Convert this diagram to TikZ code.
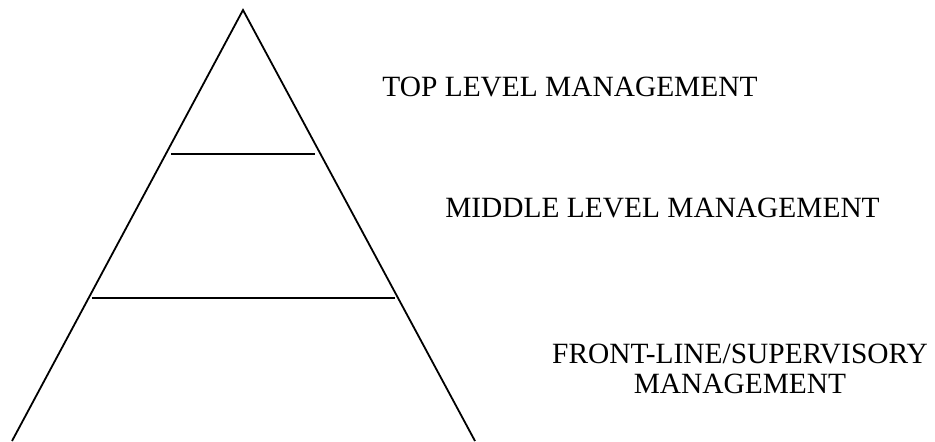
\documentclass[tikz,border=0pt]{standalone}
\usepackage{fontspec}
\setmainfont{Liberation Serif}
\tikzset{>=latex}
\tikzset{level/.style={inner sep=0pt, font=\fontsize{14.7}{15}\selectfont, align=center}}

\begin{document}
\begin{tikzpicture}[x=0.5pt, y=-0.5pt, line width=0.9pt]
      \useasboundingbox (0,0) rectangle (935,441);
      \coordinate (apex) at (243,10);
      \coordinate (bl) at (12,441);
      \coordinate (br) at (475,441);
      \draw (bl) -- (apex) -- (br);
      \draw (171,154) -- (315,154);
      \draw (92,298) -- (395,298);
      \node[level, anchor=base] (top) at (570,96) {TOP LEVEL MANAGEMENT};
      \node[level, anchor=base] (middle) at (662.5,217) {MIDDLE LEVEL MANAGEMENT};
      \node[level, anchor=base] (front) at (740,393) {FRONT-LINE/SUPERVISORY\\MANAGEMENT};
    \end{tikzpicture}
\end{document}
